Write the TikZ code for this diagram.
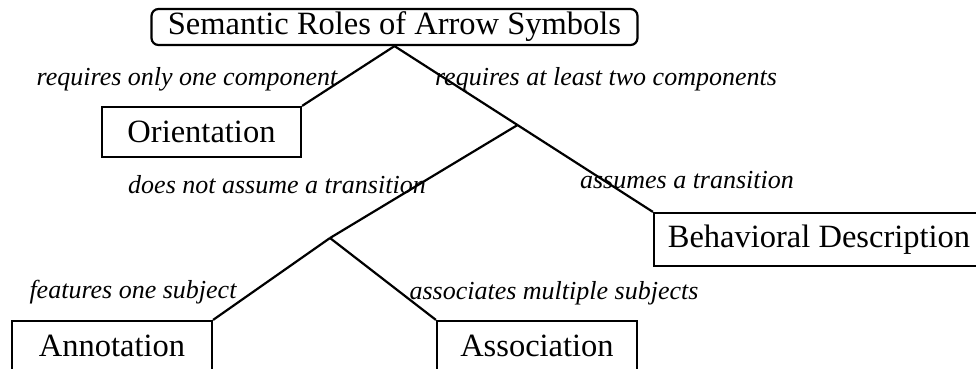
\documentclass[tikz,border=0pt]{standalone}
\usepackage{fontspec}
\setmainfont{Liberation Serif}
\usetikzlibrary{calc}
\begin{document}
\begin{tikzpicture}[x=1pt,y=-1pt,
  box/.style={draw, line width=2.2pt, inner sep=0pt, font=\fontsize{32.5}{36}\selectfont},
  lbl/.style={inner sep=0pt, anchor=base, font=\fontsize{26}{30}\selectfont\itshape},
  conn/.style={line width=2.2pt}]
\useasboundingbox (0,0) rectangle (976,368);
\node[box, rounded corners=7pt, minimum width=486pt, minimum height=36pt] (root) at (394.5,27) {Semantic Roles of Arrow Symbols};
\node[box, minimum width=199pt, minimum height=50pt] (ori) at (201.5,132) {Orientation};
\node[box, minimum width=330pt, minimum height=53pt] (beh) at (819,239.5) {Behavioral Description};
\node[box, minimum width=200pt, minimum height=50pt] (ann) at (112,346) {Annotation};
\node[box, minimum width=200pt, minimum height=50pt] (ass) at (537,346) {Association};
\coordinate (j1) at ($(root.south)!0.476!(beh.north west)$);
\coordinate (j2) at (330,238);
\draw[conn] (root.south) -- (ori.north east);
\draw[conn] (root.south) -- (beh.north west);
\draw[conn] (j1) -- (j2);
\draw[conn] (j2) -- (ann.north east);
\draw[conn] (j2) -- (ass.north west);
\node[lbl] (l1) at (187,85) {requires only one component};
\node[lbl] (l2) at (606,85) {requires at least two components};
\node[lbl] (l3) at (277,193) {does not assume a transition};
\node[lbl] (l4) at (687,188) {assumes a transition};
\node[lbl] (l5) at (133,298) {features one subject};
\node[lbl] (l6) at (554,299) {associates multiple subjects};
\end{tikzpicture}
\end{document}
